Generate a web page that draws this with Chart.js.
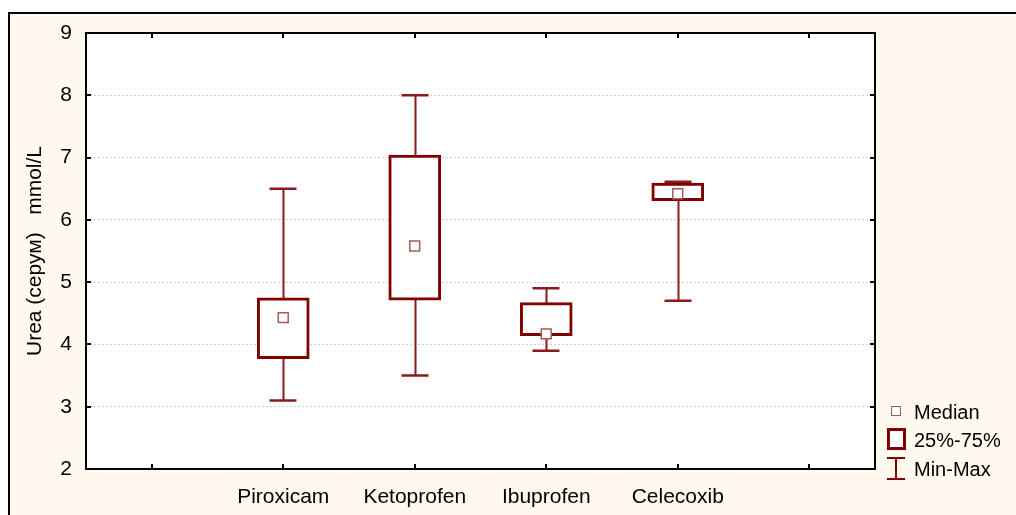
<!DOCTYPE html>
<html>
<head>
<meta charset="utf-8">
<script src="https://cdn.jsdelivr.net/npm/chart.js@4.4.0/dist/chart.umd.min.js"></script>
<style>
	html, body { margin: 0; padding: 0; background: #fff; }
	#wrap { position: relative; width: 1016px; height: 515px; }
	#legend { position: absolute; left: 0; top: 0; font-family: 'Liberation Sans', Arial, sans-serif; font-size: 20px; color: #000; }
	.lg-row { position: absolute; left: 886px; height: 24px; width: 130px; }
	.lg-text { position: absolute; left: 28px; top: 0; line-height: 24px; white-space: nowrap; }
	.sym-median { position: absolute; left: 5px; top: 6px; width: 8px; height: 8px; border: 1.5px solid #a45a5a; background: #fff; }
	.sym-box { position: absolute; left: 1px; top: 0px; width: 13px; height: 16px; border: 3px solid #800000; background: #fff; }
	.sym-range { position: absolute; left: 1px; top: 0; width: 18px; height: 24px; }
	.sym-range span { position: absolute; background: #800000; }
</style>
</head>
<body>
<div id="wrap">
	<canvas id="ureaChart" width="1016" height="515"></canvas>
	<div id="legend">
		<div class="lg-row" style="top: 400px;"><div class="sym-median"></div><div class="lg-text">Median</div></div>
		<div class="lg-row" style="top: 428px;"><div class="sym-box"></div><div class="lg-text">25%-75%</div></div>
		<div class="lg-row" style="top: 457px;">
			<div class="sym-range"><span style="left:0;top:0;width:18px;height:2px;"></span><span style="left:8px;top:0;width:2px;height:23px;"></span><span style="left:0;top:21px;width:18px;height:2px;"></span></div>
			<div class="lg-text">Min-Max</div>
		</div>
	</div>
</div>
<script>
(() => {
	'use strict'

	const categories = ['Piroxicam', 'Ketoprofen', 'Ibuprofen', 'Celecoxib'];
	const minValues = [3.1, 3.5, 3.9, 4.7];
	const q1Values = [3.77, 4.71, 4.14, 6.31];
	const medianValues = [4.43, 5.58, 4.17, 6.42];
	const q3Values = [4.75, 7.04, 4.67, 6.59];
	const maxValues = [6.5, 8.0, 4.9, 6.61];
	const yMin = 2;
	const yMax = 9;

	const boxColor = '#800000';
	const whiskerColor = '#8b1a1a';
	const medianColor = '#a45a5a';
	const cream = '#fff9ef';
	const fontFamily = "'Liberation Sans', Arial, sans-serif";

	// one empty slot on each side, like the original axis
	const labels = [''].concat(categories, ['']);
	const pad = (arr) => [null].concat(arr, [null]);
	const boxData = pad(categories.map((c, i) => [q1Values[i], q3Values[i]]));
	const medianData = pad(medianValues);

	const framePlugin = {
		id: 'framePlugin',
		beforeDraw(chart) {
			const { ctx, chartArea: a, width, height } = chart;
			ctx.save();
			ctx.fillStyle = '#fff';
			ctx.fillRect(0, 0, width, height);
			ctx.fillStyle = cream;
			ctx.fillRect(8, 12, width - 8, height - 12);
			ctx.strokeStyle = '#000';
			ctx.lineWidth = 2;
			ctx.beginPath();
			ctx.moveTo(9, height);
			ctx.lineTo(9, 13);
			ctx.lineTo(width, 13);
			ctx.stroke();
			ctx.fillStyle = '#fff';
			ctx.fillRect(a.left, a.top, a.right - a.left, a.bottom - a.top);
			ctx.restore();
		},
		beforeDatasetsDraw(chart) {
			const { ctx } = chart;
			const x = chart.scales.x;
			const y = chart.scales.y;
			ctx.save();
			categories.forEach((c, i) => {
				const px = Math.round(x.getPixelForValue(i + 1)) + 0.5;
				const top = y.getPixelForValue(maxValues[i]);
				const bottom = y.getPixelForValue(minValues[i]);
				ctx.strokeStyle = whiskerColor;
				ctx.lineWidth = 2;
				ctx.beginPath();
				ctx.moveTo(px, top);
				ctx.lineTo(px, bottom);
				ctx.stroke();
				ctx.lineWidth = 2.5;
				ctx.beginPath();
				ctx.moveTo(px - 14, top);
				ctx.lineTo(px + 13, top);
				ctx.moveTo(px - 14, bottom);
				ctx.lineTo(px + 13, bottom);
				ctx.stroke();
			});
			ctx.restore();
		},
		afterDraw(chart) {
			const { ctx, chartArea: a } = chart;
			const x = chart.scales.x;
			const y = chart.scales.y;
			ctx.save();
			ctx.strokeStyle = '#000';
			ctx.lineWidth = 2;
			ctx.beginPath();
			labels.forEach((l, i) => {
				const px = Math.round(x.getPixelForValue(i));
				ctx.moveTo(px, a.top);
				ctx.lineTo(px, a.top + 5);
				ctx.moveTo(px, a.bottom);
				ctx.lineTo(px, a.bottom - 5);
			});
			for (let v = yMin; v <= yMax; v++) {
				const py = Math.round(y.getPixelForValue(v));
				ctx.moveTo(a.left, py);
				ctx.lineTo(a.left + 5, py);
				ctx.moveTo(a.right, py);
				ctx.lineTo(a.right - 5, py);
			}
			ctx.stroke();
			ctx.lineWidth = 2;
			ctx.strokeRect(a.left, a.top, a.right - a.left, a.bottom - a.top);
			ctx.restore();
		}
	};

	new Chart(document.getElementById('ureaChart'), {
		data: {
			labels: labels,
			datasets: [
				{
					type: 'bar',
					label: '25%-75%',
					data: boxData,
					backgroundColor: '#fff',
					borderColor: boxColor,
					borderWidth: 3,
					borderSkipped: false,
					barThickness: 52,
					order: 1
				},
				{
					type: 'line',
					label: 'Median',
					data: medianData,
					showLine: false,
					pointStyle: 'rect',
					pointRadius: 7,
					pointBorderWidth: 1.5,
					pointBackgroundColor: '#fff',
					pointBorderColor: medianColor,
					order: 0
				}
			]
		},
		options: {
			responsive: false,
			animation: false,
			layout: {
				padding: { top: 33, right: 141, left: 0, bottom: 0 }
			},
			plugins: {
				legend: { display: false },
				tooltip: { enabled: false }
			},
			scales: {
				x: {
					type: 'category',
					offset: true,
					grid: { display: false, drawTicks: false },
					border: { display: false },
					ticks: {
						color: '#000',
						padding: 16,
						maxRotation: 0,
						autoSkip: false,
						font: { family: fontFamily, size: 21 }
					},
					afterFit: function(scale) {
						scale.height = 46;
					}
				},
				y: {
					min: yMin,
					max: yMax,
					grid: { color: '#cfcfcf', drawTicks: false },
					border: { display: false, dash: [2, 2] },
					ticks: {
						stepSize: 1,
						color: '#000',
						padding: 14,
						font: { family: fontFamily, size: 21 }
					},
					title: {
						display: true,
						text: 'Urea (серум)   mmol/L',
						color: '#000',
						padding: { top: 23, bottom: 0 },
						font: { family: fontFamily, size: 21 }
					},
					afterFit: function(scale) {
						scale.width = 86;
					}
				}
			}
		},
		plugins: [framePlugin]
	});
})()
</script>
</body>
</html>
